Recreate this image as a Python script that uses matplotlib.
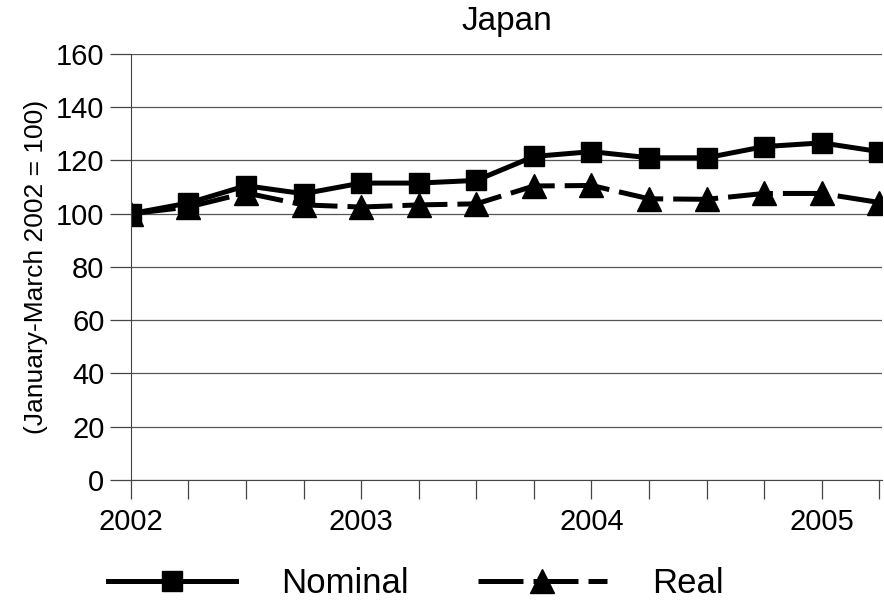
import matplotlib
matplotlib.use("Agg")
import matplotlib.pyplot as plt
from matplotlib.ticker import MultipleLocator

plt.rcParams["font.family"] = ["Liberation Sans", "DejaVu Sans"]

# quarterly index, Jan-Mar 2002 = 100
quarters = list(range(14))
year_labels = ["2002", "2003", "2004", "2005"]
nominal = [100, 104, 110.5, 107.5, 111.5, 111.5, 112.5, 121.5, 123.3, 121, 121, 125.2, 126.6, 123.3]
real = [100, 102.5, 107.8, 103.3, 102.5, 103.3, 103.7, 110.4, 110.6, 105.6, 105.4, 107.6, 107.6, 104.2]

fig = plt.figure(figsize=(8.84, 6.06), dpi=100)
ax = fig.add_axes([0.148, 0.208, 0.85, 0.703])

ax.plot(quarters, nominal, color="black", lw=3.6, marker="s", ms=15, label="Nominal")
ax.plot(quarters, real, color="black", lw=3.6, marker="^", ms=17,
        dashes=(9, 2), label="Real")

ax.set_xlim(0, 13.05)
ax.set_ylim(0, 160)
ax.yaxis.set_major_locator(MultipleLocator(20))
ax.set_xticks([0, 4, 8, 12])
ax.set_xticklabels(year_labels)
ax.xaxis.set_minor_locator(MultipleLocator(1))
ax.grid(axis="y", color="#555555", lw=0.9)
ax.set_axisbelow(True)

for s in ["top", "right"]:
    ax.spines[s].set_visible(False)
ax.spines["left"].set_color("#444444")
ax.spines["bottom"].set_color("#444444")
ax.tick_params(axis="y", direction="out", length=15, width=0.9, color="#444444",
               labelsize=21, pad=4)
ax.tick_params(axis="x", which="both", direction="out", length=14, width=0.9,
               color="#444444", labelsize=21, pad=6)

ax.set_ylabel("(January-March 2002 = 100)", fontsize=19, labelpad=6)
ax.set_title("Japan", fontsize=24, pad=17)

fig.legend(loc="lower center", bbox_to_anchor=(0.47, -0.042), ncol=2, frameon=False,
           fontsize=25, handlelength=3.7, columnspacing=2.0, handletextpad=1.3)

fig.savefig("out.png", dpi=100, facecolor="white")
